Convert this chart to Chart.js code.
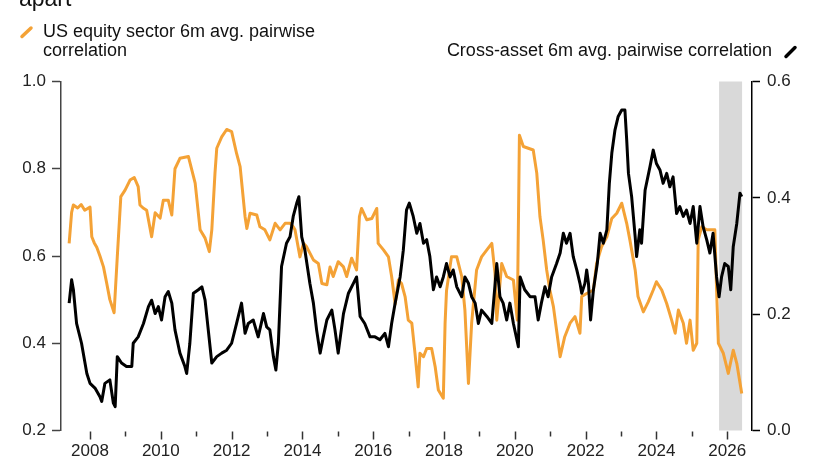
<!DOCTYPE html>
<html>
<head>
<meta charset="utf-8">
<script src="https://cdn.jsdelivr.net/npm/chart.js@4/dist/chart.umd.min.js"></script>
<style>
  html, body { margin: 0; padding: 0; background: #fff; }
  #wrap { position: relative; width: 820px; height: 460px; overflow: hidden; font-family: "Liberation Sans", Arial, sans-serif; color: #111; }
  #c { position: absolute; left: 0; top: 0; }
  .txt { position: absolute; font-size: 18px; line-height: 19px; white-space: nowrap; }
</style>
</head>
<body>
<div id="wrap">
  <canvas id="c" width="820" height="460"></canvas>
  <div class="txt" style="left:19px; top:-13.5px; font-size:23px; line-height:23px;">apart</div>
  <div class="txt" style="left:43px; top:21.8px;">US equity sector 6m avg. pairwise<br>correlation</div>
  <div class="txt" style="right:48px; top:41.3px;">Cross-asset 6m avg. pairwise correlation</div>
</div>
<script>
// ---- Data ----
const equityYears = [2007.41,2007.48,2007.53,2007.65,2007.75,2007.85,2008.00,2008.05,2008.12,2008.19,2008.28,2008.38,2008.47,2008.56,2008.68,2008.77,2008.87,2008.99,2009.13,2009.25,2009.36,2009.41,2009.50,2009.60,2009.74,2009.84,2009.98,2010.07,2010.21,2010.31,2010.40,2010.54,2010.78,2010.97,2011.11,2011.25,2011.37,2011.44,2011.53,2011.58,2011.72,2011.86,2012.00,2012.14,2012.24,2012.38,2012.43,2012.52,2012.71,2012.80,2012.94,2013.08,2013.23,2013.37,2013.51,2013.65,2013.74,2013.79,2013.93,2014.03,2014.12,2014.31,2014.45,2014.55,2014.69,2014.78,2014.87,2015.01,2015.16,2015.25,2015.39,2015.53,2015.61,2015.67,2015.82,2015.96,2016.10,2016.14,2016.29,2016.43,2016.52,2016.62,2016.71,2016.80,2016.90,2016.99,2017.09,2017.18,2017.27,2017.32,2017.42,2017.51,2017.65,2017.75,2017.84,2017.98,2018.03,2018.07,2018.21,2018.36,2018.50,2018.59,2018.69,2018.78,2018.92,2019.06,2019.21,2019.35,2019.44,2019.49,2019.63,2019.77,2019.96,2020.07,2020.13,2020.24,2020.52,2020.62,2020.71,2020.80,2020.90,2020.99,2021.09,2021.28,2021.41,2021.56,2021.70,2021.84,2021.89,2022.03,2022.22,2022.31,2022.45,2022.60,2022.74,2022.88,2023.02,2023.16,2023.25,2023.40,2023.48,2023.63,2023.77,2023.91,2024.00,2024.15,2024.29,2024.43,2024.53,2024.62,2024.76,2024.85,2024.95,2025.04,2025.14,2025.18,2025.28,2025.42,2025.65,2025.70,2025.75,2025.89,2026.03,2026.17,2026.27,2026.41];
const equityCorr = [0.629,0.70,0.717,0.71,0.718,0.705,0.712,0.644,0.63,0.62,0.60,0.575,0.538,0.50,0.47,0.598,0.736,0.751,0.774,0.78,0.759,0.717,0.71,0.705,0.644,0.699,0.687,0.728,0.728,0.694,0.80,0.824,0.828,0.767,0.66,0.641,0.61,0.66,0.79,0.847,0.873,0.89,0.885,0.835,0.805,0.69,0.663,0.698,0.694,0.667,0.66,0.637,0.675,0.66,0.675,0.675,0.667,0.66,0.598,0.629,0.621,0.591,0.583,0.537,0.534,0.575,0.553,0.587,0.575,0.553,0.595,0.568,0.69,0.709,0.683,0.686,0.709,0.629,0.614,0.598,0.553,0.49,0.545,0.537,0.507,0.453,0.446,0.377,0.30,0.377,0.369,0.388,0.388,0.346,0.293,0.274,0.446,0.52,0.598,0.598,0.553,0.476,0.308,0.446,0.568,0.598,0.614,0.629,0.56,0.453,0.583,0.553,0.545,0.453,0.877,0.851,0.843,0.79,0.69,0.637,0.568,0.522,0.484,0.369,0.415,0.446,0.461,0.423,0.507,0.514,0.522,0.583,0.621,0.644,0.686,0.698,0.721,0.675,0.637,0.568,0.507,0.472,0.495,0.522,0.541,0.522,0.491,0.453,0.423,0.476,0.446,0.40,0.453,0.384,0.40,0.637,0.667,0.66,0.66,0.522,0.40,0.377,0.331,0.384,0.354,0.285];

const crossYears = [2007.41,2007.48,2007.53,2007.62,2007.76,2007.91,2008.00,2008.14,2008.28,2008.33,2008.42,2008.56,2008.66,2008.71,2008.77,2008.89,2009.03,2009.18,2009.22,2009.36,2009.51,2009.65,2009.74,2009.84,2009.93,2010.02,2010.12,2010.21,2010.31,2010.40,2010.54,2010.68,2010.73,2010.82,2010.92,2011.06,2011.16,2011.25,2011.34,2011.44,2011.58,2011.72,2011.86,2012.00,2012.14,2012.28,2012.38,2012.47,2012.61,2012.75,2012.90,2012.99,2013.08,2013.18,2013.25,2013.32,2013.41,2013.55,2013.65,2013.74,2013.84,2013.90,2013.98,2014.07,2014.21,2014.31,2014.40,2014.50,2014.59,2014.69,2014.83,2014.92,2015.01,2015.16,2015.30,2015.44,2015.53,2015.63,2015.76,2015.91,2016.05,2016.19,2016.33,2016.43,2016.52,2016.62,2016.76,2016.85,2016.94,2017.02,2017.13,2017.23,2017.32,2017.42,2017.51,2017.60,2017.70,2017.79,2017.89,2017.98,2018.07,2018.17,2018.26,2018.36,2018.50,2018.59,2018.69,2018.78,2018.88,2018.97,2019.06,2019.21,2019.35,2019.49,2019.58,2019.67,2019.77,2019.86,2019.96,2020.10,2020.15,2020.28,2020.43,2020.57,2020.66,2020.75,2020.85,2020.94,2021.04,2021.18,2021.28,2021.37,2021.46,2021.56,2021.65,2021.75,2021.84,2021.89,2021.98,2022.03,2022.08,2022.14,2022.22,2022.33,2022.41,2022.50,2022.60,2022.67,2022.74,2022.83,2022.92,2023.02,2023.11,2023.16,2023.21,2023.30,2023.40,2023.44,2023.53,2023.58,2023.68,2023.82,2023.91,2024.00,2024.10,2024.19,2024.29,2024.38,2024.47,2024.57,2024.66,2024.76,2024.85,2024.95,2025.04,2025.14,2025.23,2025.32,2025.42,2025.51,2025.60,2025.70,2025.77,2025.84,2025.93,2026.03,2026.10,2026.17,2026.27,2026.36,2026.41];
const crossCorr = [0.219,0.259,0.242,0.184,0.15,0.098,0.081,0.073,0.058,0.05,0.081,0.087,0.047,0.041,0.127,0.116,0.11,0.11,0.15,0.161,0.184,0.213,0.224,0.201,0.213,0.19,0.23,0.239,0.219,0.173,0.133,0.11,0.098,0.15,0.236,0.242,0.247,0.224,0.173,0.116,0.127,0.133,0.138,0.15,0.184,0.219,0.167,0.184,0.19,0.161,0.201,0.178,0.173,0.127,0.104,0.15,0.282,0.322,0.333,0.368,0.391,0.402,0.333,0.31,0.253,0.219,0.173,0.133,0.161,0.19,0.207,0.173,0.133,0.201,0.236,0.253,0.264,0.196,0.184,0.161,0.161,0.156,0.167,0.144,0.184,0.219,0.264,0.31,0.379,0.391,0.368,0.339,0.356,0.322,0.328,0.299,0.242,0.264,0.247,0.264,0.287,0.264,0.276,0.247,0.23,0.264,0.253,0.23,0.219,0.184,0.207,0.196,0.184,0.287,0.23,0.219,0.19,0.219,0.184,0.144,0.264,0.242,0.23,0.23,0.19,0.219,0.247,0.23,0.264,0.287,0.305,0.339,0.322,0.339,0.299,0.276,0.253,0.236,0.253,0.276,0.253,0.19,0.242,0.287,0.339,0.322,0.345,0.425,0.477,0.517,0.54,0.551,0.551,0.50,0.442,0.402,0.333,0.299,0.345,0.322,0.413,0.454,0.482,0.459,0.448,0.425,0.442,0.419,0.436,0.373,0.385,0.368,0.379,0.356,0.385,0.322,0.385,0.35,0.328,0.305,0.339,0.264,0.23,0.264,0.287,0.282,0.242,0.316,0.356,0.408,0.402];

const tickYears = [2008,2009,2010,2011,2012,2013,2014,2015,2016,2017,2018,2019,2020,2021,2022,2023,2024,2025,2026];
const leftTicks = [0.2,0.4,0.6,0.8,1.0];
const rightTicks = [0.0,0.2,0.4,0.6];
const shadeRange = [2025.77, 2026.42];
const xRange = [2007.18, 2026.70];

const ORANGE = '#f4a236';
const BLACK = '#000000';

const toPts = (xs, ys) => xs.map((x, i) => ({ x: x, y: ys[i] }));

const decorPlugin = {
  id: 'decor',
  beforeDatasetsDraw(chart) {
    const { ctx, chartArea, scales } = chart;
    const x0 = scales.x.getPixelForValue(shadeRange[0]);
    const x1 = scales.x.getPixelForValue(shadeRange[1]);
    ctx.save();
    ctx.fillStyle = '#d9d9d9';
    ctx.fillRect(x0, chartArea.top, x1 - x0, chartArea.bottom - chartArea.top);
    ctx.restore();
  },
  afterDraw(chart) {
    const { ctx, chartArea, scales } = chart;
    ctx.save();
    ctx.strokeStyle = '#333';
    ctx.lineWidth = 1.5;
    tickYears.forEach(y => {
      const px = Math.round(scales.x.getPixelForValue(y)) + 0.5;
      const len = (y % 2 === 0) ? 8 : 5;
      ctx.beginPath();
      ctx.moveTo(px, chartArea.bottom + 1);
      ctx.lineTo(px, chartArea.bottom + 1 + len);
      ctx.stroke();
    });
    // legend icons
    ctx.lineCap = 'round';
    ctx.lineWidth = 3.5;
    ctx.strokeStyle = ORANGE;
    ctx.beginPath(); ctx.moveTo(22, 36.5); ctx.lineTo(31, 28); ctx.stroke();
    ctx.strokeStyle = BLACK;
    ctx.beginPath(); ctx.moveTo(786, 56.5); ctx.lineTo(795, 47.5); ctx.stroke();
    ctx.restore();
  }
};

new Chart(document.getElementById('c'), {
  type: 'line',
  data: {
    datasets: [
      { label: 'Cross-asset 6m avg. pairwise correlation', data: toPts(crossYears, crossCorr), yAxisID: 'yR',
        borderColor: BLACK, borderWidth: 3, pointRadius: 0, tension: 0, borderJoinStyle: 'round', order: 0 },
      { label: 'US equity sector 6m avg. pairwise correlation', data: toPts(equityYears, equityCorr), yAxisID: 'yL',
        borderColor: ORANGE, borderWidth: 3, pointRadius: 0, tension: 0, borderJoinStyle: 'round', order: 1 }
    ]
  },
  options: {
    responsive: false,
    animation: false,
    layout: { padding: { top: 81.5, left: 0, right: 0, bottom: 0 } },
    plugins: { legend: { display: false }, title: { display: false }, tooltip: { enabled: false } },
    scales: {
      x: {
        type: 'linear', position: 'bottom', min: xRange[0], max: xRange[1],
        grid: { display: false }, border: { display: false },
        afterBuildTicks: s => { s.ticks = tickYears.map(v => ({ value: v })); },
        afterFit: s => { s.height = 29.5; },
        ticks: { autoSkip: false, maxRotation: 0, padding: 3, color: '#222',
          font: { family: 'Liberation Sans', size: 17 },
          callback: v => (v % 2 === 0 ? String(v) : '') }
      },
      yL: {
        type: 'linear', position: 'left', min: 0.2, max: 1.0,
        afterBuildTicks: s => { s.ticks = leftTicks.map(v => ({ value: v })); },
        afterFit: s => { s.width = 61; },
        grid: { drawOnChartArea: false, drawTicks: true, tickLength: 9, color: '#444', tickWidth: 1.5 },
        border: { display: true, color: '#444', width: 1.5 },
        ticks: { padding: 6, color: '#222', font: { family: 'Liberation Sans', size: 17 },
          callback: v => v.toFixed(1) }
      },
      yR: {
        type: 'linear', position: 'right', min: 0.0, max: 0.6,
        afterBuildTicks: s => { s.ticks = rightTicks.map(v => ({ value: v })); },
        afterFit: s => { s.width = 68; },
        grid: { drawOnChartArea: false, drawTicks: true, tickLength: 8, color: '#000', tickWidth: 1.5 },
        border: { display: true, color: '#000', width: 1.5 },
        ticks: { padding: 7, color: '#222', font: { family: 'Liberation Sans', size: 17 },
          callback: v => v.toFixed(1) }
      }
    }
  },
  plugins: [decorPlugin]
});
</script>
</body>
</html>
